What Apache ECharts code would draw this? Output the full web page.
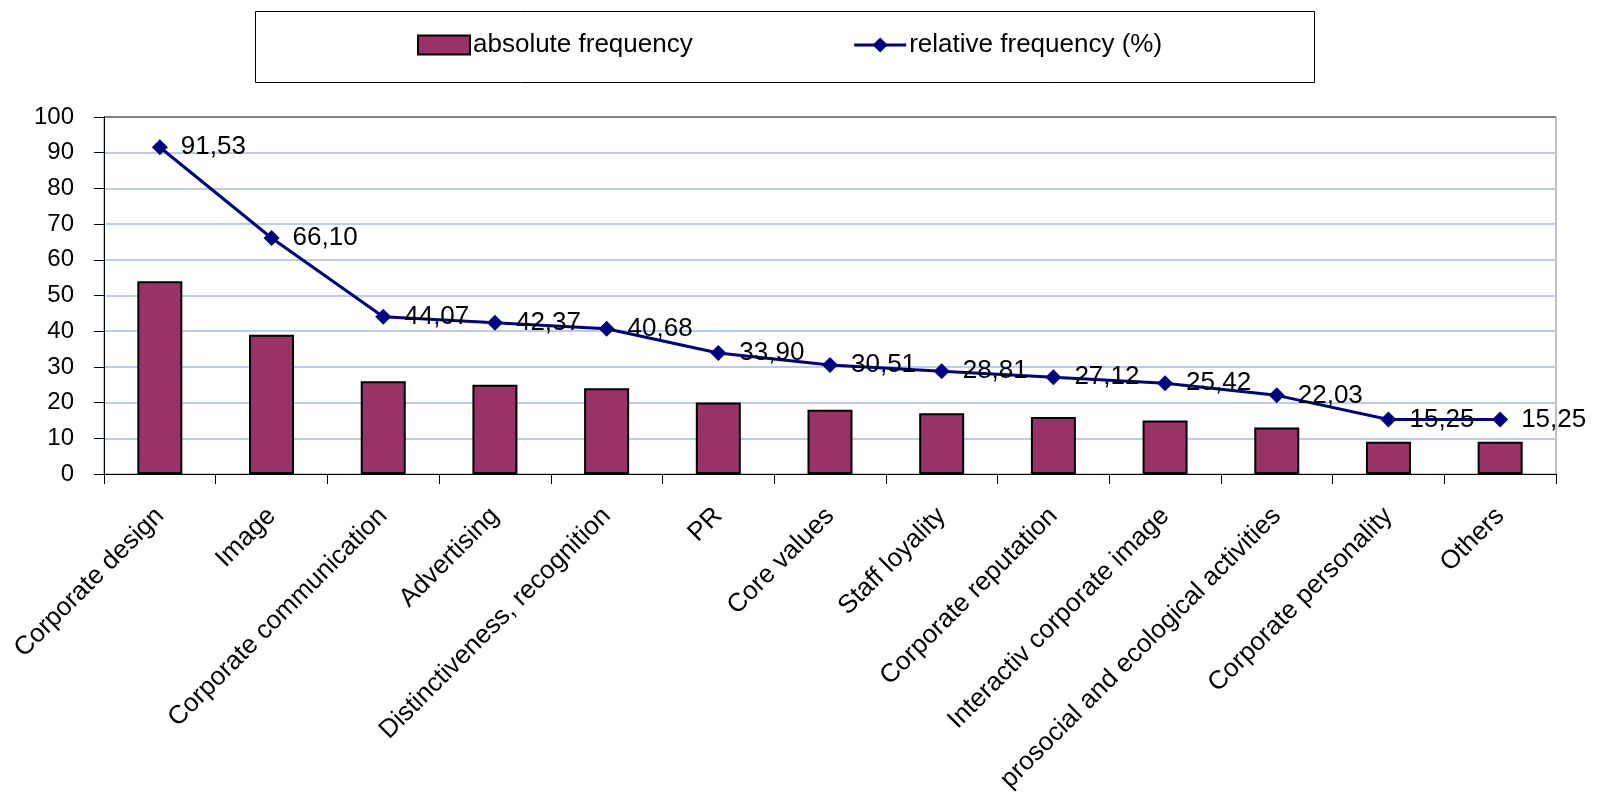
<!DOCTYPE html>
<html>
<head>
<meta charset="utf-8">
<script src="https://cdn.jsdelivr.net/npm/echarts@6/dist/echarts.min.js"></script>
<style>html,body{margin:0;padding:0;background:#fff;}#c{width:1600px;height:801px;}</style>
</head>
<body>
<div id="c"></div>
<script>
const categories = ['Corporate design','Image','Corporate communication','Advertising','Distinctiveness, recognition','PR','Core values','Staff loyality','Corporate reputation','Interactiv corporate image','prosocial and ecological activities','Corporate personality','Others'];
const absoluteFrequency = [54,39,26,25,24,20,18,17,16,15,13,9,9];
const relativeFrequency = [91.53,66.10,44.07,42.37,40.68,33.90,30.51,28.81,27.12,25.42,22.03,15.25,15.25];
const yTicks = [0,10,20,30,40,50,60,70,80,90,100];

const FONT = 'Liberation Sans, Arial, sans-serif';
const FS = 26;
const gridColors = yTicks.map(v => v === 100 ? '#808080' : '#bccbea');
const chart = echarts.init(document.getElementById('c'));
chart.setOption({
  animation: false,
  backgroundColor: '#fff',
  textStyle: {fontFamily: FONT},
  graphic: [{
    type: 'rect', left: 253, top: 9, shape: {width: 1059, height: 71},
    style: {fill: 'none', stroke: '#000', lineWidth: 1}, z: -1
  }],
  legend: {
    left: 412, top: 27,
    itemWidth: 52, itemHeight: 19, itemGap: 160,
    textStyle: {fontSize: FS, color: '#000', fontFamily: FONT, padding: [0,0,0,-2]},
    data: [
      {name: 'absolute frequency', icon: 'rect'},
      {name: 'relative frequency (%)', lineStyle: {width: 3, color: '#000080'}}
    ]
  },
  grid: {left: 104, right: 44, top: 117, bottom: 327, show: true, borderColor: '#808080', borderWidth: 1},
  xAxis: {
    type: 'category', data: categories,
    axisLine: {lineStyle: {color: '#000', width: 1}},
    axisTick: {show: true, length: 10, inside: false, lineStyle: {color: '#000'}},
    axisLabel: {rotate: 45, fontSize: FS, color: '#000', margin: 38, interval: 0, fontFamily: FONT},
    splitLine: {show: false}
  },
  yAxis: {
    type: 'value', min: 0, max: 100, interval: 10,
    axisLine: {show: true, lineStyle: {color: '#000', width: 1}},
    axisTick: {show: true, length: 10, lineStyle: {color: '#000'}},
    axisLabel: {fontSize: 24, color: '#000', margin: 30, fontFamily: FONT,
      formatter: v => yTicks.indexOf(v) >= 0 ? String(v) : ''},
    splitLine: {show: true, lineStyle: {color: gridColors, width: 2}}
  },
  series: [
    {
      name: 'absolute frequency', type: 'bar', data: absoluteFrequency, barWidth: 45,
      itemStyle: {color: '#993366', borderColor: '#000', borderWidth: 2}
    },
    {
      name: 'relative frequency (%)', type: 'line', data: relativeFrequency,
      symbol: 'diamond', symbolSize: 16,
      lineStyle: {color: '#000080', width: 3},
      itemStyle: {color: '#000080'},
      label: {show: true, position: 'right', distance: 13, fontSize: FS, color: '#000', fontFamily: FONT,
        formatter: p => p.value.toFixed(2).replace('.', ',')}
    }
  ]
});
</script>
</body>
</html>
